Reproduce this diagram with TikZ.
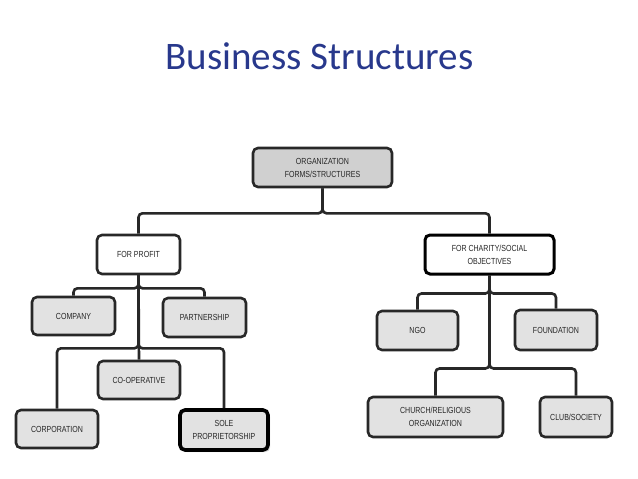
\documentclass[tikz,border=0pt]{standalone}
\usepackage{fontspec}
\usepackage{tikz}
\usetikzlibrary{shadows}

\newfontfamily\titlefont{Carlito}
\newfontfamily\boxfont[FakeStretch=0.8]{Liberation Sans}
\definecolor{titleblue}{RGB}{40,56,140}
\definecolor{boxgray}{RGB}{226,226,226}
\definecolor{rootgray}{RGB}{208,208,208}
\definecolor{edgegray}{RGB}{40,40,40}

\begin{document}
\begin{tikzpicture}[x=1pt,y=-1pt,
        unit/.style={draw=edgegray,line width=2.6pt,rounded corners=5pt,fill=boxgray,
            align=center,inner sep=0pt,font=\boxfont\fontsize{8.8}{13}\selectfont,text=black!85},
        group/.style={unit,fill=white},
        conn/.style={draw=edgegray,line width=2.6pt,rounded corners=4pt}]
            \useasboundingbox (0,0) rectangle (638,479);
            \node[anchor=base,text=titleblue,font=\titlefont\fontsize{39}{44}\selectfont] (title) at (319.5,69) {Business Structures};

            \node[unit,fill=rootgray,minimum width=139pt,minimum height=39pt] (org) at (322.5,167.5) {ORGANIZATION\\FORMS/STRUCTURES};
            \node[group,minimum width=83pt,minimum height=39pt] (profit) at (138.5,254.5) {FOR PROFIT};
            \node[group,draw=black,line width=3pt,minimum width=129pt,minimum height=39pt] (charity) at (489.5,254.5) {FOR CHARITY/SOCIAL\\OBJECTIVES};

            \node[unit,minimum width=83pt,minimum height=38pt] (company) at (73.5,316) {COMPANY};
            \node[unit,minimum width=83pt,minimum height=39pt] (partner) at (204.5,317.5) {PARTNERSHIP};
            \node[unit,minimum width=82pt,minimum height=38pt] (coop) at (139,380) {CO-OPERATIVE};
            \node[unit,minimum width=82pt,minimum height=38pt] (corp) at (57,429) {CORPORATION};
            \node[unit,draw=black,line width=3.6pt,drop shadow={opacity=0.35},minimum width=88pt,minimum height=40pt] (sole) at (224,430) {SOLE\\PROPRIETORSHIP};

            \node[unit,minimum width=81pt,minimum height=39pt] (ngo) at (417.5,330.5) {NGO};
            \node[unit,minimum width=82pt,minimum height=40pt] (found) at (556,330) {FOUNDATION};
            \node[unit,minimum width=135pt,minimum height=40pt] (church) at (435.5,417) {CHURCH/RELIGIOUS\\ORGANIZATION};
            \node[unit,minimum width=72pt,minimum height=40pt] (club) at (576,417) {CLUB/SOCIETY};

            % top level
            \draw[conn] (org.south) -- ++(0,25) -| (profit.north);
            \draw[conn] (org.south) -- ++(0,25) -| (charity.north);

            % for profit
            \draw[conn] (profit.south) -- (coop.north);
            \draw[conn] (profit.south) -- ++(0,13) -| (company.north);
            \draw[conn] (profit.south) -- ++(0,13) -| (partner.north);
            \draw[conn] (profit.south) -- ++(0,73) -| (corp.north);
            \draw[conn] (profit.south) -- ++(0,73) -| (sole.north);

            % for charity
            \draw[conn] (charity.south) -- ++(0,18) -| (ngo.north);
            \draw[conn] (charity.south) -- ++(0,18) -| (found.north);
            \draw[conn] (charity.south) -- ++(0,93) -| (church.north);
            \draw[conn] (charity.south) -- ++(0,93) -| (club.north);
        \end{tikzpicture}
\end{document}
